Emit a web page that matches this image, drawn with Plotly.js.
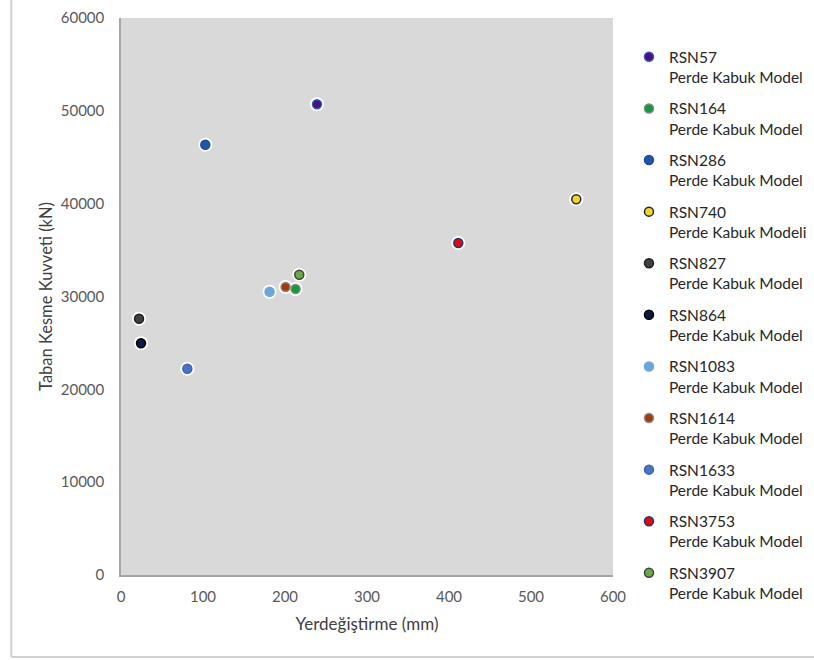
<!DOCTYPE html>
<html>
<head>
<meta charset="utf-8">
<script src="https://cdn.plot.ly/plotly-3.0.1.min.js"></script>
<style>html,body{margin:0;padding:0;background:#fff;}#chart{width:814px;height:660px;}</style>
</head>
<body>
<div id="chart"></div>
<script>
const names = ["RSN57","RSN164","RSN286","RSN740","RSN827","RSN864","RSN1083","RSN1614","RSN1633","RSN3753","RSN3907"];
const subtitles = ["Perde Kabuk Model","Perde Kabuk Model","Perde Kabuk Model","Perde Kabuk Modeli","Perde Kabuk Model","Perde Kabuk Model","Perde Kabuk Model","Perde Kabuk Model","Perde Kabuk Model","Perde Kabuk Model","Perde Kabuk Model"];
const displacement = [239, 212.9, 102.8, 555.2, 22, 24.4, 181.2, 200.7, 80.9, 411.3, 217.4];
const baseShear = [50705, 30809, 46354, 40472, 27610, 24960, 30518, 31024, 22223, 35764, 32349];
const fillColors = ["#4B0C86","#139A3C","#2255A8","#F5D423","#404040","#0B1A45","#6BA5DA","#A43A0C","#4A74C2","#E00A0A","#6CA844"];
const lineColors = ["#2E5CAA","#7A8C7A","#1D4C96","#1C2640","#1E1E1E","#000000","#6BA5DA","#8A8A8A","#3E66B0","#1A3A7C","#404040"];

const traces = [];
// white halo behind markers
traces.push({
  x: displacement, y: baseShear, type: 'scatter', mode: 'markers',
  marker: {size: 14, color: '#FFFFFF', line: {width: 0}},
  showlegend: false, hoverinfo: 'skip'
});
for (let i = 0; i < names.length; i++) {
  traces.push({
    x: [displacement[i]], y: [baseShear[i]], type: 'scatter', mode: 'markers',
    name: names[i] + '<br>' + subtitles[i],
    legendgroup: 'g' + i,
    marker: {size: 9, color: fillColors[i], line: {width: 1.5, color: lineColors[i]}}
  });
}

const fam = 'Lato, "Open Sans", sans-serif';
const axisFont = {family: fam, size: 15, color: '#595959'};
const layout = {
  width: 814, height: 660,
  margin: {l: 121, r: 201, t: 18, b: 85},
  paper_bgcolor: '#FFFFFF',
  plot_bgcolor: '#D9D9D9',
  font: {family: fam, size: 15, color: '#404040'},
  xaxis: {
    range: [0, 600], dtick: 100, tick0: 0,
    showgrid: false, zeroline: false,
    showline: true, linecolor: '#A6A6A6', linewidth: 1.5,
    ticks: '', ticklabelstandoff: 7,
    tickfont: axisFont,
    title: {text: 'Yerdeğiştirme (mm)', font: {family: fam, size: 17, color: '#404040'}, standoff: 14}
  },
  yaxis: {
    range: [0, 60000], dtick: 10000, tick0: 0, tickformat: 'd',
    showgrid: false, zeroline: false,
    showline: true, linecolor: '#A6A6A6', linewidth: 1.5,
    ticks: '', ticklabelstandoff: 12,
    tickfont: axisFont,
    title: {text: 'Taban Kesme Kuvveti (kN)', font: {family: fam, size: 16.5, color: '#404040'}, standoff: 4}
  },
  legend: {
    xref: 'container', yref: 'container',
    x: 0.7727, xanchor: 'left', y: 0.939, yanchor: 'top',
    traceorder: 'grouped', tracegroupgap: 8.3,
    valign: 'top', maxheight: 700,
    bgcolor: 'rgba(0,0,0,0)',
    font: {family: fam, size: 15.5, color: '#262626'}
  },
  shapes: [
    {type: 'line', xref: 'paper', yref: 'paper', x0: -0.223, x1: -0.223, y0: 1.04, y1: -0.1472, line: {color: '#D0D0D0', width: 2}},
    {type: 'line', xref: 'paper', yref: 'paper', x0: -0.223, x1: 1.42, y0: -0.1472, y1: -0.1472, line: {color: '#D0D0D0', width: 2}}
  ]
};
Plotly.newPlot('chart', traces, layout, {displayModeBar: false, responsive: false});
</script>
</body>
</html>
